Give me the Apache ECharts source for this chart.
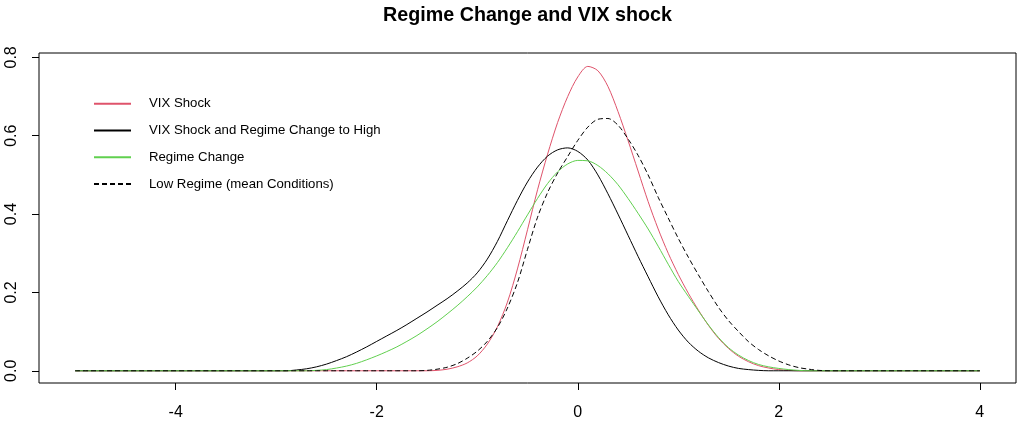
<!DOCTYPE html>
<html>
<head>
<meta charset="utf-8">
<script src="https://cdn.jsdelivr.net/npm/echarts@6/dist/echarts.min.js"></script>
<style>
html,body{margin:0;padding:0;background:#fff;}
#c{width:1018px;height:424px;}
</style>
</head>
<body>
<div id="c"></div>
<script>
var xValues = [-5,
  -3.0,-2.9,-2.8,-2.7,-2.6,-2.5,-2.4,-2.3,-2.2,-2.1,
  -2.0,-1.9,-1.8,-1.7,-1.6,-1.5,-1.4,-1.3,-1.2,-1.1,
  -1.0,-0.9,-0.8,-0.7,-0.6,-0.5,-0.4,-0.3,-0.2,-0.1,
  0.0,0.1,0.2,0.3,0.4,0.5,0.6,0.7,0.8,0.9,
  1.0,1.1,1.2,1.3,1.4,1.5,1.6,1.7,1.8,1.9,
  2.0,2.1,2.2,2.3,2.4,2.5,
  4];

var vixShock = [0,
  0,0,0,0,0,0,0,0,0,0,
  0,0,0,0,0,0,0.001,0.004,0.010,0.020,
  0.038,0.068,0.112,0.175,0.260,0.360,0.462,0.553,0.634,0.700,
  0.750,0.777,0.766,0.726,0.662,0.588,0.510,0.432,0.362,0.300,
  0.246,0.198,0.155,0.116,0.083,0.057,0.037,0.023,0.013,0.007,
  0.003,0.001,0,0,0,0,
  0];

var vixShockHigh = [0,
  0,0,0.002,0.005,0.010,0.017,0.026,0.036,0.048,0.061,
  0.075,0.089,0.103,0.118,0.134,0.150,0.167,0.184,0.203,0.224,
  0.250,0.285,0.330,0.383,0.435,0.482,0.520,0.548,0.564,0.569,
  0.560,0.538,0.500,0.452,0.400,0.346,0.292,0.240,0.189,0.143,
  0.104,0.073,0.050,0.033,0.021,0.012,0.006,0.003,0.001,0,
  0,0,0,0,0,0,
  0];

var regimeChange = [0,
  0,0,0,0,0.001,0.003,0.007,0.012,0.019,0.028,
  0.038,0.049,0.061,0.075,0.090,0.107,0.125,0.145,0.166,0.189,
  0.214,0.243,0.276,0.314,0.355,0.398,0.440,0.478,0.508,0.528,
  0.537,0.536,0.524,0.503,0.475,0.440,0.402,0.362,0.318,0.272,
  0.228,0.190,0.153,0.117,0.085,0.059,0.040,0.026,0.016,0.010,
  0.006,0.003,0.001,0,0,0,
  0];

var lowRegime = [0,
  0,0,0,0,0,0,0,0,0,0,
  0,0,0,0,0,0.001,0.004,0.009,0.018,0.032,
  0.050,0.075,0.110,0.160,0.225,0.310,0.392,0.455,0.505,0.547,
  0.588,0.622,0.642,0.644,0.627,0.592,0.550,0.500,0.443,0.390,
  0.338,0.290,0.245,0.202,0.162,0.128,0.100,0.074,0.054,0.038,
  0.025,0.015,0.008,0.004,0.001,0,
  0];

var seriesNames = ['VIX Shock', 'VIX Shock and Regime Change to High', 'Regime Change', 'Low Regime (mean Conditions)'];
var xTicks = [-4, -2, 0, 2, 4];
var yTicks = [0, 0.2, 0.4, 0.6, 0.8];

function pairs(ys) {
  return xValues.map(function (x, i) { return [x, ys[i]]; });
}

var FONT = "'Liberation Sans', Arial, sans-serif";
var chart = echarts.init(document.getElementById('c'), null, {renderer: 'canvas'});

function lineSeries(name, ys, color, type) {
  return {
    name: name,
    type: 'line',
    data: pairs(ys),
    symbol: 'none',
    smooth: 0.3,
    animation: false,
    lineStyle: {color: color, width: 1, type: type || 'solid'},
    itemStyle: {color: color}
  };
}

chart.setOption({
  animation: false,
  backgroundColor: '#ffffff',
  title: {
    text: 'Regime Change and VIX shock',
    left: 527.5,
    textAlign: 'center',
    top: 6,
    padding: 0,
    textStyle: {fontFamily: FONT, fontWeight: 'bold', fontSize: 19.7, color: '#000'}
  },
  legend: {
    orient: 'vertical',
    left: 93,
    top: 97.3,
    padding: 0,
    itemWidth: 37,
    itemHeight: 14,
    itemGap: 13.7,
    data: seriesNames,
    itemStyle: {opacity: 0},
    textStyle: {fontFamily: FONT, fontSize: 13.2, color: '#000', padding: [0, 0, 0, 13]}
  },
  grid: {
    left: 39, right: 2, top: 53, bottom: 41,
    show: true, borderColor: '#000', borderWidth: 1, backgroundColor: 'transparent'
  },
  xAxis: {
    type: 'value',
    min: -5.36, max: 4.36,
    axisLine: {show: false, onZero: false},
    splitLine: {show: false},
    axisTick: {show: true, length: 7, customValues: xTicks, lineStyle: {color: '#000'}},
    axisLabel: {customValues: xTicks, margin: 22, fontFamily: FONT, fontSize: 16, color: '#000',
      formatter: function (v) { return String(v); }}
  },
  yAxis: {
    type: 'value',
    min: -0.0312, max: 0.8112,
    axisLine: {show: false, onZero: false},
    splitLine: {show: false},
    axisTick: {show: true, length: 7, customValues: yTicks, lineStyle: {color: '#000'}},
    axisLabel: {customValues: yTicks, rotate: 90, margin: 19, fontFamily: FONT, fontSize: 16, color: '#000',
      formatter: function (v) { return v.toFixed(1); }}
  },
  series: [
    lineSeries(seriesNames[0], vixShock, '#DF536B'),
    lineSeries(seriesNames[1], vixShockHigh, '#000000'),
    lineSeries(seriesNames[2], regimeChange, '#61D04F'),
    lineSeries(seriesNames[3], lowRegime, '#000000', [5, 3])
  ]
});
</script>
</body>
</html>
